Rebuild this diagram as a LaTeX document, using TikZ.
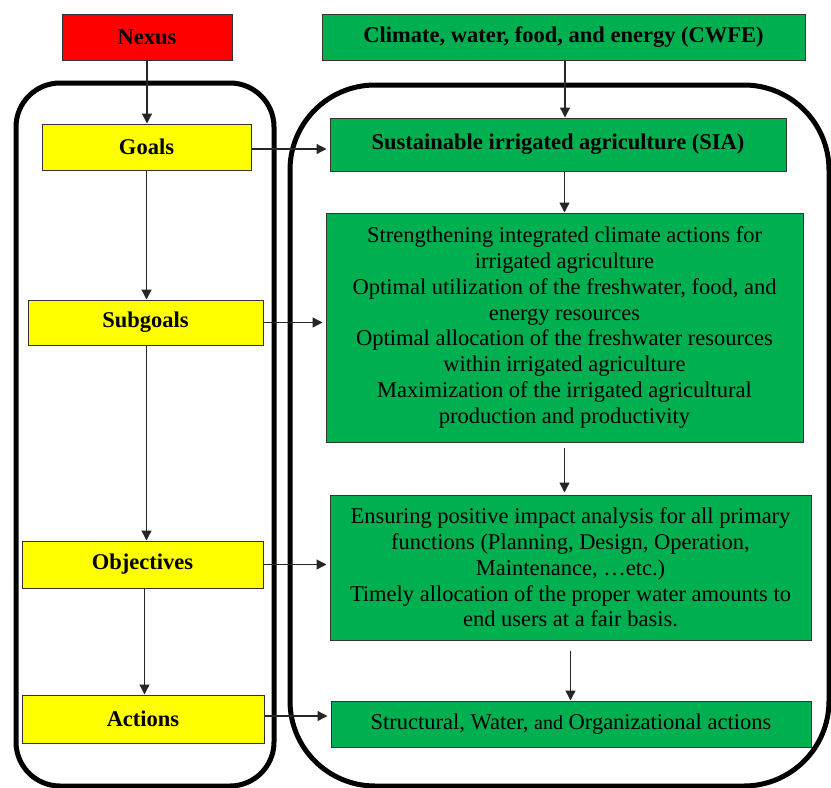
\documentclass[tikz,border=0pt]{standalone}
\usepackage{fontspec}
\setmainfont{Liberation Serif}
\usetikzlibrary{arrows.meta}
\definecolor{nred}{HTML}{FF0000}
\definecolor{nyel}{HTML}{FFFF00}
\definecolor{ngreen}{HTML}{00B050}
\tikzset{
  boxbase/.style={draw=black!80, line width=1pt, inner sep=2pt, align=center, font=\fontsize{22.5}{25.8}\selectfont},
  redbox/.style={boxbase, fill=nred, font=\fontsize{22.5}{25.8}\selectfont\bfseries},
  yelbox/.style={boxbase, fill=nyel, font=\fontsize{22.5}{25.8}\selectfont\bfseries},
  grnbox/.style={boxbase, fill=ngreen},
  grnbold/.style={grnbox, font=\fontsize{22.5}{25.8}\selectfont\bfseries},
  conn/.style={line width=1.3pt, draw=black!85, -{Triangle[length=10pt,width=10pt]}},
  frame/.style={line width=5pt, draw=black}
}
\begin{document}
\begin{tikzpicture}[x=1pt,y=-1pt]
\useasboundingbox (0,0) rectangle (831,788);
% frames
\draw[frame, rounded corners=44pt] (16,83) rectangle (274,786);
\draw[frame, rounded corners=85pt] (290,85) rectangle (829,786);
% left column
\node[redbox, minimum width=170pt, minimum height=46pt] (nexus) at (147,37) {Nexus};
\node[yelbox, minimum width=209pt, minimum height=46pt] (goals) at (146.5,147) {Goals};
\node[yelbox, minimum width=235pt, minimum height=45pt] (sub) at (145.5,322.5) {Subgoals};
\node[yelbox, minimum width=241pt, minimum height=47pt] (obj) at (142.5,564.5) {Objectives};
\node[yelbox, minimum width=242pt, minimum height=48pt] (act) at (143,719) {Actions};
% right column
\node[grnbold, minimum width=483pt, minimum height=46pt] (cwfe) at (563.5,37) {Climate, water, food, and energy (CWFE)};
\node[grnbold, minimum width=456pt, minimum height=53pt] (sia) at (558,144.5) {Sustainable irrigated agriculture (SIA)};
\node[grnbox, minimum width=477pt, minimum height=229pt] (big) at (564.5,327.5) {Strengthening integrated climate actions for\\irrigated agriculture\\Optimal utilization of the freshwater, food, and\\energy resources\\Optimal allocation of the freshwater resources\\within irrigated agriculture\\Maximization of the irrigated agricultural\\production and productivity};
\node[grnbox, minimum width=481pt, minimum height=145pt] (obox) at (570.5,567.5) {Ensuring positive impact analysis for all primary\\functions (Planning, Design, Operation,\\Maintenance, \ldots etc.)\\Timely allocation of the proper water amounts to\\end users at a fair basis.};
\node[grnbox, minimum width=480pt, minimum height=46pt] (abox) at (571,724) {Structural, Water, {\fontsize{20}{24}\selectfont and} Organizational actions};
% vertical connectors
\draw[conn] (nexus.south) -- (nexus.south |- goals.north);
\draw[conn] (goals.south) -- (goals.south |- sub.north);
\draw[conn] ([xshift=1pt]sub.south) -- ([xshift=1pt]sub.south |- obj.north);
\draw[conn] ([xshift=2pt]obj.south) -- ([xshift=2pt]obj.south |- act.north);
\draw[conn] ([xshift=1.5pt]cwfe.south) -- ([xshift=1.5pt]cwfe.south |- sia.north);
\draw[conn] (big.north |- sia.south) -- (big.north);
\draw[conn, shorten <=5pt, shorten >=2pt] (big.south) -- (big.south |- obox.north);
\draw[conn, shorten <=10pt] (obox.south) -- (obox.south |- abox.north);
% horizontal connectors
\draw[conn, shorten >=3pt] ([yshift=-2pt]goals.east) -- ([yshift=-2pt]goals.east -| sia.west);
\draw[conn, shorten >=3pt] (sub.east) -- (sub.east -| big.west);
\draw[conn, shorten >=3pt] (obj.east) -- (obj.east -| obox.west);
\draw[conn, shorten >=3pt] ([yshift=3pt]act.east) -- ([yshift=3pt]act.east -| abox.west);
\end{tikzpicture}
\end{document}
